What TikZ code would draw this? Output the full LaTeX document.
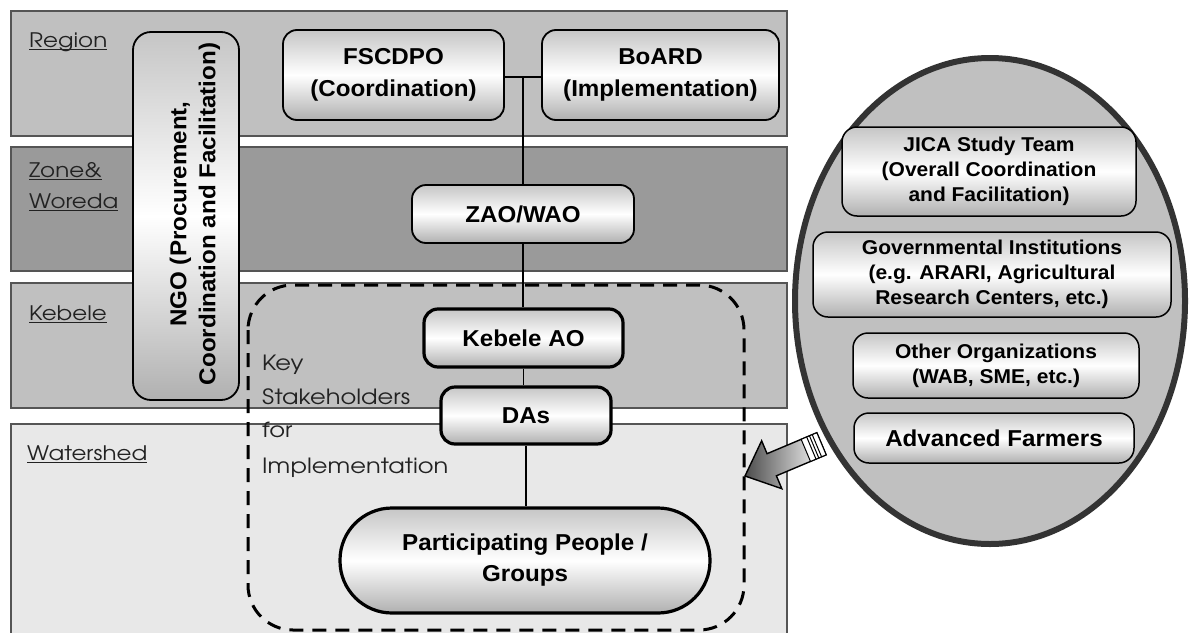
\documentclass[tikz,border=0pt]{standalone}
\usepackage{fontspec}
\setmainfont[FakeStretch=1.05]{Liberation Sans}
\newfontfamily\gothic[FakeStretch=1.15]{TeX Gyre Adventor}
\usetikzlibrary{shapes.geometric}
\definecolor{bandline}{HTML}{555555}
\definecolor{regfill}{HTML}{C0C0C0}
\definecolor{zonefill}{HTML}{9A9A9A}
\definecolor{shedfill}{HTML}{E8E8E8}
\definecolor{txtgray}{HTML}{222222}
\definecolor{ellline}{HTML}{333333}
\newcommand{\myul}[1]{\setbox0\hbox{#1}\rlap{\rule[-3pt]{\wd0}{1.3pt}}#1}
\begin{document}
\begin{tikzpicture}[x=1pt,y=1pt,
  band/.style={draw=bandline, line width=1.5pt},
  lbl/.style={anchor=base west, font=\gothic\fontsize{20}{31}\selectfont, text=txtgray, inner sep=0},
  klbl/.style={lbl, font=\gothic\fontsize{21}{31}\selectfont},
  box/.style={draw=black, line width=1.8pt, rounded corners=14pt, top color=gray!45, bottom color=gray!62, middle color=white, align=center, inner sep=0, font=\bfseries\fontsize{23}{32}\selectfont},
  tbox/.style={box, line width=3.2pt},
  ibox/.style={box, line width=1.5pt, rounded corners=15pt, font=\bfseries\fontsize{20}{25}\selectfont},
  link/.style={draw=black, line width=1.5pt},
]
\useasboundingbox (0,0) rectangle (1190,-632);
\fill[white] (0,0) rectangle (1190,-632);
% bands
\path[band, fill=regfill] (11,-11) rectangle (787,-136);
\path[band, fill=zonefill] (11,-147) rectangle (787,-271);
\path[band, fill=regfill] (11,-283) rectangle (787,-408);
\path[band, fill=shedfill] (11,-424) rectangle (787,-640);
\node[lbl] (lreg) at (29,-47) {\myul{Region}};
\node[lbl] (lzone1) at (29,-177) {\myul{Zone\&}};
\node[lbl] (lzone2) at (29,-208) {\myul{Woreda}};
\node[lbl] (lkeb) at (29,-320) {\myul{Kebele}};
\node[lbl] (lshed) at (27,-460) {\myul{Watershed}};
% NGO
\node[box, minimum width=106pt, minimum height=368pt, rounded corners=18pt] (ngo) at (186,-216) {};
\node[rotate=90, font=\bfseries\fontsize{23}{29}\selectfont, align=center, inner sep=0] (ngotxt) at (195,-214) {NGO (Procurement,\\Coordination and Facilitation)};
% key stakeholders area
\draw[line width=3pt, dash pattern=on 14pt off 9pt, rounded corners=45pt] (248,-285) rectangle (744,-630);
\node[klbl] (k1) at (262,-370) {Key};
\node[klbl] (k2) at (262,-404) {Stakeholders};
\node[klbl] (k3) at (262,-437) {for};
\node[klbl] (k4) at (262,-473) {Implementation};
% boxes
\node[box, minimum width=221pt, minimum height=90pt] (fsc) at (393.5,-75) {FSCDPO\\(Coordination)};
\path (fsc.center) ++(0,-2) coordinate (fscm);
\node[box, minimum width=237pt, minimum height=90pt] (board) at (660.5,-75) {BoARD\\(Implementation)};
\node[box, minimum width=222pt, minimum height=58pt] (zao) at (523,-214) {ZAO/WAO};
\node[tbox, minimum width=199pt, minimum height=58pt] (keb) at (523.5,-338) {Kebele AO};
\node[tbox, minimum width=170pt, minimum height=57pt] (das) at (526,-415.5) {DAs};
\node[tbox, minimum width=370pt, minimum height=105pt, rounded corners=52pt, font=\bfseries\fontsize{23}{31}\selectfont] (part) at (525,-560.5) {Participating People /\\Groups};
% links
\coordinate (jn) at (zao.north |- fscm);
\draw[link] (fsc.east |- fscm) -- (board.west |- fscm);
\draw[link] (jn) -- (zao.north);
\draw[link] (zao.south) -- (zao.south |- keb.north);
\draw[link] (keb.south) -- (keb.south |- das.north);
\draw[link] (das.south) -- (das.south |- part.north);
% other actors
\node[ellipse, draw=ellline, line width=6pt, fill=regfill, minimum width=390pt, minimum height=486pt, inner sep=0] (others) at (990,-301) {};
\node[ibox, minimum width=294pt, minimum height=89pt] (jica) at (989,-171.5) {JICA Study Team\\(Overall Coordination\\and Facilitation)};
\node[ibox, minimum width=358pt, minimum height=85pt] (gov) at (992,-274.5) {Governmental Institutions\\(e.g. ARARI, Agricultural\\Research Centers, etc.)};
\node[ibox, minimum width=286pt, minimum height=65pt] (oth) at (996,-365.5) {Other Organizations\\(WAB, SME, etc.)};
\node[ibox, minimum width=280pt, minimum height=50pt, font=\bfseries\fontsize{23}{25}\selectfont] (adv) at (994,-438) {Advanced Farmers};
% arrow
\coordinate (atip) at (745,-476);
\begin{scope}[shift={(atip)}, rotate=22.85]
\path[draw=black, line width=1.4pt, left color=black!70, right color=white] (0,0) -- (29,26) -- (29,12) -- (83,12) -- (83,-12) -- (29,-12) -- (29,-26) -- cycle;
\path[draw=black, fill=white, line width=1pt] (66,-12) rectangle (83,12);
\foreach \u in {72,75,78} \draw[line width=1pt] (\u,-12) -- (\u,12);
\end{scope}
\end{tikzpicture}
\end{document}
